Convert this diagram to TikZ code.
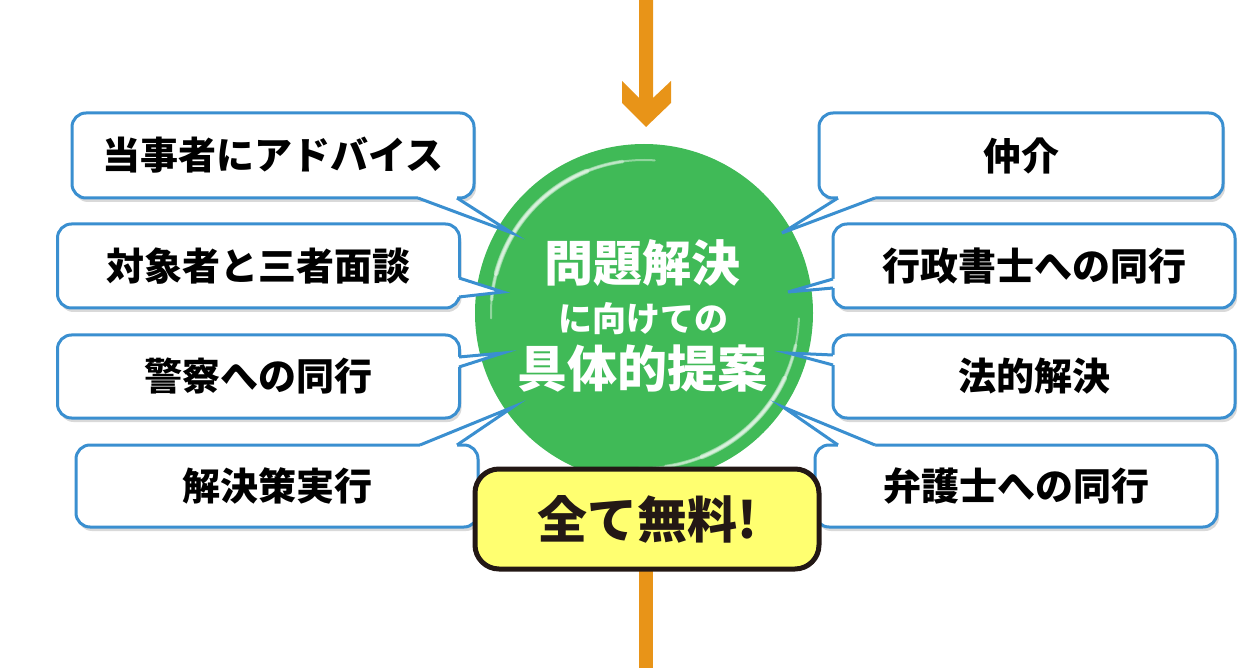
\documentclass[tikz,border=0pt]{standalone}
\usepackage{fontspec}
\newfontfamily\jp{Noto Sans CJK JP}
\usetikzlibrary{shadows,calc}
\definecolor{borderblue}{HTML}{3A8FD0}
\definecolor{ballgreen}{HTML}{40BA57}
\definecolor{arroworange}{HTML}{E89418}
\definecolor{freeyellow}{HTML}{FFFF70}
\definecolor{darkline}{HTML}{231815}
\newcommand\calltail[4]{%
  \fill[white] ($#1+#4$) -- #1 -- #2 -- #3 -- ($#3+#4$) -- cycle;
  \draw[borderblue, line width=3pt, line join=miter] #1 -- #2 -- #3;
}
\begin{document}
\begin{tikzpicture}[x=1pt,y=-1pt,
  callout/.style={draw=borderblue, line width=3pt, fill=white, rounded corners=14pt,
    minimum width=402pt, minimum height=84pt, inner sep=0pt, text=black,
    font=\jp\bfseries\fontsize{38}{40}\selectfont,
    drop shadow={shadow xshift=2pt, shadow yshift=-4pt, opacity=0.3}},
  bigtext/.style={inner sep=0pt, text=white, font=\jp\bfseries\fontsize{49}{52}\selectfont},
  midtext/.style={inner sep=0pt, text=white, font=\jp\bfseries\fontsize{34}{36}\selectfont},
  gloss/.style={white, line cap=round, opacity=0.42}]
\useasboundingbox (0,0) rectangle (1248,668);

% orange flow arrow
\fill[arroworange] (639,0) -- (653,0) -- (653,98) -- (671,81) -- (671,103) -- (646,127)
  -- (622,103) -- (622,81) -- (639,98) -- cycle;
\fill[arroworange] (639,560) rectangle (653,668);

% green ball
\node[circle, fill=ballgreen, minimum size=338pt, inner sep=0pt] (ball) at (644,313) {};
\draw[gloss, line width=2pt] (ball.center) ++(-86:153) arc[start angle=-86, end angle=-182, radius=153];
\draw[gloss, line width=3.5pt] (ball.center) ++(-98:153) arc[start angle=-98, end angle=-175, radius=153];
\draw[gloss, line width=5pt] (ball.center) ++(-112:153) arc[start angle=-112, end angle=-165, radius=153];
\draw[gloss, line width=2pt] (ball.center) ++(2:155) arc[start angle=2, end angle=92, radius=155];
\draw[gloss, line width=3.5pt] (ball.center) ++(12:155) arc[start angle=12, end angle=82, radius=155];
\draw[gloss, line width=5pt] (ball.center) ++(25:155) arc[start angle=25, end angle=68, radius=155];

% tips on the ball
\coordinate (tL1) at (512,233);
\coordinate (tL2) at (503,292);
\coordinate (tL3) at (503,353);
\coordinate (tL4) at (513,407);
\coordinate (tR1) at (782,233);
\coordinate (tR2) at (788,292);
\coordinate (tR3) at (788,353);
\coordinate (tR4) at (783,407);

% left callouts
\node[callout, minimum height=85pt] (L1) at (273,155.5) {当事者にアドバイス};
\calltail{(418,198)}{(tL1)}{(457,198)}{(0,-3)}
\node[callout] (L2) at (258.5,266) {対象者と三者面談};
\calltail{(459,278)}{(tL2)}{(459,297)}{(-3,0)}
\node[callout, minimum height=83pt] (L3) at (258.5,376.5) {警察への同行};
\calltail{(459,357)}{(tL3)}{(459,367)}{(-3,0)}
\node[callout, minimum height=82pt] (L4) at (277,486) {解決策実行};
\calltail{(420,445)}{(tL4)}{(457,445)}{(0,3)}

% right callouts
\node[callout, minimum width=404pt, minimum height=85pt] (R1) at (1021,155.5) {仲介};
\calltail{(838,198)}{(tR1)}{(875,198)}{(0,-3)}
\node[callout] (R2) at (1034,266) {行政書士への同行};
\calltail{(833,279)}{(tR2)}{(833,288)}{(3,0)}
\node[callout, minimum height=83pt] (R3) at (1034,376.5) {法的解決};
\calltail{(833,355)}{(tR3)}{(833,365)}{(3,0)}
\node[callout, minimum height=82pt] (R4) at (1016,486) {弁護士への同行};
\calltail{(838,445)}{(tR4)}{(875,445)}{(0,3)}

% text in the ball
\node[bigtext] (l1) at (642,263) {問題解決};
\node[midtext] (l2) at (643,319) {に向けての};
\node[bigtext, font=\jp\bfseries\fontsize{50}{52}\selectfont] (l3) at (642,369) {具体的提案};

% free badge
\node[draw=darkline, line width=5pt, fill=freeyellow, rounded corners=24pt,
  minimum width=344pt, minimum height=100pt, inner sep=0pt, text=darkline,
  font=\jp\bfseries\fontsize{50}{52}\selectfont] (free) at (647,519) {全て無料!};
\end{tikzpicture}
\end{document}
